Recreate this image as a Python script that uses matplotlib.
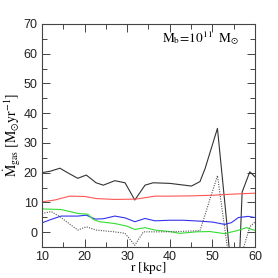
import matplotlib
matplotlib.use('Agg')
import matplotlib.pyplot as plt
from matplotlib.ticker import MultipleLocator

# total (black solid)
r_tot = [10, 12, 14.2, 16, 18.4, 20.4, 22.7, 24.4, 27.1, 29.5, 31.8, 34.2, 36.1,
         40, 45.1, 47.1, 48.3, 51.2, 53.1, 54.6, 56.2, 57.0, 58.8, 60]
v_tot = [20, 20.5, 21.5, 20, 18.1, 19.2, 16.6, 15.8, 17.3, 16.6, 10.8, 15.8, 16.6,
         16.4, 15.5, 17, 21.4, 34.9, 7.4, -15, -15, 13.5, 20.3, 18.6]

# red
r_red = [10, 13, 16.5, 20, 22.7, 27, 32, 36.5, 40, 45, 50, 55, 60]
v_red = [10.2, 10.8, 12.1, 12, 11.3, 11, 11.1, 12.1, 12.1, 12.2, 12.4, 12.8, 13.1]

# blue
r_blue = [10, 12, 14.5, 18.4, 20.4, 22.5, 24.4, 27.1, 29.5, 31.8, 34.2, 36.5, 40,
          43.2, 47.1, 50, 52.9, 54.5, 56.1, 58.4, 60]
v_blue = [3.1, 4.2, 5.4, 5.4, 5.7, 4.4, 4.5, 5.4, 4.8, 3.5, 4.6, 3.8, 4.0,
          4.0, 3.7, 3.4, 2.6, 3.2, 4.9, 5.3, 4.9]

# green
r_green = [10, 14.5, 18.4, 20.8, 22, 23.5, 27.1, 30, 31.8, 34.2, 36.5, 40, 42.4,
           46.3, 49.4, 52.9, 56.1, 58, 60]
v_green = [7.8, 7.6, 6.3, 6.0, 4.3, 3.5, 2.9, 2.0, 0.9, 1.5, 0.7, 0.2, -0.4,
           0.1, 0.2, -0.5, 0.6, 1.5, 0.6]

# dotted gray
r_dot = [10, 12.2, 14.2, 18.4, 20.4, 22.7, 27, 29.5, 31.8, 33.8, 36, 40, 47.1,
         51.2, 54, 55.5, 58.8, 60]
v_dot = [6.3, 6.9, 5.2, 0.7, 1.8, 0.7, 0.1, -0.4, -4.4, 0.1, 0.1, 0.1, 0.5,
         19, -10, -14, 1.8, 3.4]

plt.rcParams['mathtext.fontset'] = 'stix'
plt.rcParams['font.family'] = 'Liberation Sans'

fig = plt.figure(figsize=(2.78, 2.78), dpi=100)
ax = fig.add_axes([0.151, 0.1115, 0.766, 0.8022])

ax.plot(r_tot, v_tot, color='#333333', lw=0.8)
ax.plot(r_red, v_red, color='#ff5555', lw=0.8)
ax.plot(r_blue, v_blue, color='#3333ee', lw=0.8)
ax.plot(r_green, v_green, color='#33dd33', lw=0.8)
ax.plot(r_dot, v_dot, color='#555555', lw=0.8, ls=(0, (1, 1.2)))

ax.set_xlim(10, 60)
ax.set_ylim(-5, 70)
ax.xaxis.set_major_locator(MultipleLocator(10))
ax.xaxis.set_minor_locator(MultipleLocator(5))
ax.yaxis.set_major_locator(MultipleLocator(10))
ax.yaxis.set_minor_locator(MultipleLocator(5))
ax.tick_params(which='both', direction='in', top=True, right=True,
               labelsize=9, color='#444444', labelcolor='#222222')
ax.tick_params(axis='x', pad=3)
ax.tick_params(axis='y', pad=3)
ax.tick_params(which='major', length=6, width=0.7)
ax.tick_params(which='minor', length=3.5, width=0.7)
for s in ax.spines.values():
    s.set_color('#444444')
    s.set_linewidth(0.8)

ax.set_xlabel(r'$\rm r\ [kpc]$', fontsize=9.5, labelpad=-2.5)
ax.set_ylabel(r'$\dot{\rm M}_{\rm gas}\ [{\rm M}_{\odot}{\rm yr}^{-1}]$', fontsize=10, labelpad=1)
ax.text(0.565, 0.935, r'$\rm M_b\!=\!10^{11}\ \ M_{\odot}$', transform=ax.transAxes,
        fontsize=9.5, va='center')

fig.savefig('out.png', dpi=100)
